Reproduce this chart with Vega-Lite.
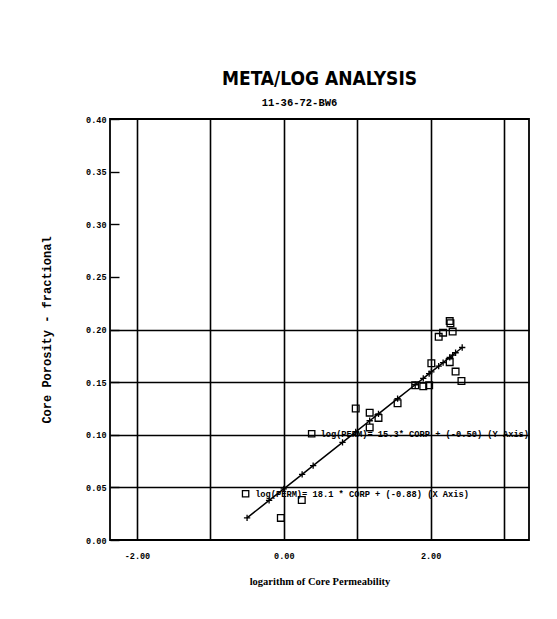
{
  "$schema": "https://vega.github.io/schema/vega-lite/v6.json",
  "autosize": "none",
  "width": 419,
  "height": 421,
  "padding": {"left": 110, "top": 119, "right": 28, "bottom": 79},
  "background": "white",
  "config": {
    "view": {"stroke": "black", "strokeWidth": 1.8},
    "axis": {"domain": false}
  },
  "title": {
    "text": "META/LOG ANALYSIS",
    "subtitle": "11-36-72-BW6\u2800\u2800\u2800\u2800\u2800",
    "anchor": "middle",
    "offset": 7,
    "font": "DejaVu Sans Condensed, DejaVu Sans",
    "fontSize": 19,
    "fontWeight": "bold",
    "color": "black",
    "subtitleFont": "Liberation Mono, DejaVu Sans Mono",
    "subtitleFontSize": 10.5,
    "subtitleFontWeight": "bold",
    "subtitleColor": "black",
    "subtitlePadding": 9
  },
  "datasets": {
    "core": [
      {"logk": 0.98, "phi": 0.125},
      {"logk": 1.17, "phi": 0.121},
      {"logk": 1.29, "phi": 0.116},
      {"logk": 1.17, "phi": 0.107},
      {"logk": 1.55, "phi": 0.130},
      {"logk": 1.79, "phi": 0.147},
      {"logk": 1.90, "phi": 0.146},
      {"logk": 1.98, "phi": 0.147},
      {"logk": 2.01, "phi": 0.168},
      {"logk": 2.11, "phi": 0.193},
      {"logk": 2.17, "phi": 0.197},
      {"logk": 2.30, "phi": 0.198},
      {"logk": 2.26, "phi": 0.208},
      {"logk": 2.27, "phi": 0.206},
      {"logk": 2.26, "phi": 0.169},
      {"logk": 2.34, "phi": 0.160},
      {"logk": 2.42, "phi": 0.151},
      {"logk": 0.245, "phi": 0.038},
      {"logk": -0.04, "phi": 0.021}
    ],
    "fit": [
      {"logk": -0.50, "phi": 0.0210},
      {"logk": -0.20, "phi": 0.0376},
      {"logk": 0.00, "phi": 0.0486},
      {"logk": 0.25, "phi": 0.0624},
      {"logk": 0.40, "phi": 0.0707},
      {"logk": 0.80, "phi": 0.0928},
      {"logk": 0.98, "phi": 0.1028},
      {"logk": 1.17, "phi": 0.1133},
      {"logk": 1.29, "phi": 0.1199},
      {"logk": 1.55, "phi": 0.1343},
      {"logk": 1.79, "phi": 0.1475},
      {"logk": 1.90, "phi": 0.1536},
      {"logk": 1.98, "phi": 0.1580},
      {"logk": 2.01, "phi": 0.1597},
      {"logk": 2.11, "phi": 0.1652},
      {"logk": 2.17, "phi": 0.1685},
      {"logk": 2.26, "phi": 0.1735},
      {"logk": 2.30, "phi": 0.1757},
      {"logk": 2.34, "phi": 0.1779},
      {"logk": 2.43, "phi": 0.1829}
    ],
    "notes": [
      {"logk": 0.38, "phi": 0.101, "sx": 0.50, "sy": 0.098, "label": "log(PERM)= 15.3*  CORP  + (-0.50) (Y Axis)"},
      {"logk": -0.52, "phi": 0.044, "sx": -0.39, "sy": 0.041, "label": "log(PERM)= 18.1 *  CORP  + (-0.88) (X Axis)"}
    ]
  },
  "encoding": {
    "x": {
      "field": "logk", "type": "quantitative",
      "scale": {"domain": [-2.367, 3.34], "nice": false, "zero": false},
      "axis": {
        "title": "logarithm of Core Permeability",
        "values": [-2, -1, 0, 1, 2, 3],
        "labelExpr": "datum.value % 2 == 0 ? replace(format(datum.value, '.2f'), '\u2212', '-') : ''",
        "grid": true, "gridColor": "black", "gridWidth": 1.6, "gridOpacity": 1,
        "ticks": false,
        "labelPadding": 11,
        "labelFont": "Liberation Mono", "labelFontSize": 8.5, "labelFontWeight": "bold", "labelColor": "black",
        "titleFont": "Liberation Serif", "titleFontSize": 10.5, "titleFontWeight": "bold", "titleColor": "black",
        "titlePadding": 17
      }
    },
    "y": {
      "field": "phi", "type": "quantitative",
      "scale": {"domain": [0, 0.4], "nice": false},
      "axis": {
        "title": "Core Porosity - fractional",
        "values": [0, 0.05, 0.1, 0.15, 0.2, 0.25, 0.3, 0.35, 0.4],
        "format": ".2f",
        "grid": true, "gridColor": "black", "gridWidth": 1.6,
        "gridOpacity": {"condition": {"test": "datum.value > 0.01 && datum.value < 0.21", "value": 1}, "value": 0},
        "ticks": true, "tickSize": -9, "tickColor": "black", "tickWidth": 1.4,
        "labelPadding": 13,
        "labelFont": "Liberation Mono", "labelFontSize": 8.5, "labelFontWeight": "bold", "labelColor": "black",
        "titleFont": "Liberation Mono", "titleFontSize": 12, "titleFontWeight": "bold", "titleColor": "black",
        "titlePadding": 32
      }
    }
  },
  "layer": [
    {
      "data": {"name": "fit"},
      "mark": {"type": "line", "color": "black", "strokeWidth": 1.5}
    },
    {
      "data": {"name": "fit"},
      "mark": {"type": "point", "shape": "M-1,0L1,0M0,-1L0,1", "size": 40, "stroke": "black", "strokeWidth": 1.3, "filled": false, "opacity": 1}
    },
    {
      "data": {"name": "core"},
      "mark": {"type": "point", "shape": "square", "size": 45, "stroke": "black", "strokeWidth": 1.3, "filled": false, "opacity": 1}
    },
    {
      "data": {"name": "notes"},
      "mark": {"type": "point", "shape": "square", "size": 40, "stroke": "black", "strokeWidth": 1.3, "filled": false, "opacity": 1}
    },
    {
      "data": {"name": "notes"},
      "mark": {"type": "text", "align": "left", "baseline": "alphabetic", "font": "Liberation Mono", "fontSize": 8.7, "fontWeight": "bold", "color": "black"},
      "encoding": {
        "x": {"field": "sx", "type": "quantitative"},
        "y": {"field": "sy", "type": "quantitative"},
        "text": {"field": "label"}
      }
    }
  ]
}
